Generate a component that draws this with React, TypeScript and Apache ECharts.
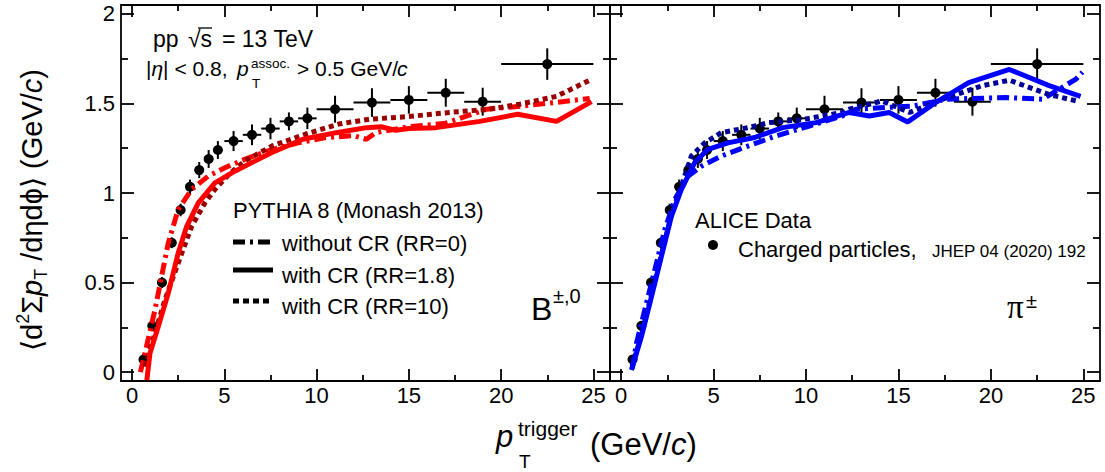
import React, { useEffect, useRef } from "react";
import * as echarts from "echarts";

// ALICE data (charged particles)
const dataPt = [0.62, 1.1, 1.62, 2.15, 2.63, 3.14, 3.64, 4.15, 4.65, 5.5, 6.5, 7.5, 8.5, 9.5, 11, 13, 15, 17, 19, 22.5];
const dataPtErr = [0.25, 0.25, 0.25, 0.25, 0.25, 0.25, 0.25, 0.25, 0.25, 0.5, 0.5, 0.5, 0.5, 0.5, 1, 1, 1, 1, 1, 2.5];
const dataMean = [0.07, 0.258, 0.5, 0.722, 0.905, 1.035, 1.128, 1.19, 1.24, 1.29, 1.325, 1.36, 1.4, 1.417, 1.468, 1.505, 1.52, 1.56, 1.51, 1.72];
const dataMeanErr = [0.02, 0.025, 0.03, 0.03, 0.035, 0.04, 0.045, 0.05, 0.05, 0.056, 0.058, 0.06, 0.05, 0.06, 0.075, 0.08, 0.077, 0.078, 0.078, 0.088];

// B mesons, PYTHIA 8
const bSolidPt = [0.8, 0.97, 1.42, 1.96, 2.5, 2.96, 3.59, 4.49, 5.57, 6.65, 7.55, 9.25, 11.06, 12.7, 13.5, 14.3, 15, 16.47, 18.85, 20.9, 23.0, 24.9];
const bSolidMean = [-0.045, 0.105, 0.254, 0.44, 0.665, 0.814, 0.945, 1.057, 1.122, 1.178, 1.225, 1.3, 1.337, 1.365, 1.37, 1.35, 1.36, 1.365, 1.4, 1.44, 1.4, 1.51];
const bNoCrPt = [0.45, 0.61, 1.24, 1.6, 1.96, 2.5, 3.23, 4.12, 5.03, 6.1, 7.5, 9.0, 10.5, 12.0, 12.7, 13.2, 15.0, 17.0, 19.2, 20.6, 22.9, 24.8];
const bNoCrMean = [0.0, 0.067, 0.347, 0.534, 0.72, 0.908, 1.02, 1.094, 1.141, 1.188, 1.24, 1.28, 1.31, 1.32, 1.3, 1.337, 1.37, 1.39, 1.468, 1.48, 1.505, 1.528];
const bRR10Pt = [0.7, 1.24, 1.78, 2.5, 3.23, 3.95, 4.49, 5.3, 6.2, 7.64, 9.44, 11.2, 12.86, 15.0, 17.2, 19.35, 21.0, 23.0, 24.9];
const bRR10Mean = [0.03, 0.217, 0.403, 0.609, 0.814, 0.945, 1.02, 1.11, 1.185, 1.265, 1.33, 1.385, 1.412, 1.427, 1.45, 1.468, 1.496, 1.54, 1.635];

// pions, PYTHIA 8
const piSolidPt = [0.56, 1.1, 1.64, 2.18, 2.72, 3.26, 3.98, 4.7, 5.78, 7.22, 8.74, 10.54, 12.34, 13.42, 14.5, 15.5, 17.0, 18.8, 21.0, 23.15, 24.85];
const piSolidMean = [0.011, 0.198, 0.42, 0.646, 0.87, 1.02, 1.17, 1.244, 1.28, 1.31, 1.365, 1.393, 1.45, 1.43, 1.45, 1.397, 1.505, 1.617, 1.69, 1.6, 1.54];
const piNoCrPt = [0.6, 0.83, 1.28, 1.82, 2.36, 2.9, 3.62, 4.34, 5.42, 6.86, 8.36, 10.18, 11.96, 12.7, 15.8, 17.6, 20.8, 22.8, 24.6, 24.95];
const piNoCrMean = [0.02, 0.16, 0.347, 0.57, 0.795, 0.963, 1.094, 1.15, 1.206, 1.262, 1.318, 1.374, 1.43, 1.468, 1.486, 1.524, 1.533, 1.524, 1.636, 1.675];
const piRR10Pt = [0.6, 1.1, 1.64, 2.18, 2.72, 3.26, 3.8, 4.52, 5.42, 6.86, 8.0, 9.8, 11.96, 12.34, 14.1, 15.6, 17.4, 19.55, 21.0, 23.15, 24.8];
const piRR10Mean = [0.03, 0.21, 0.43, 0.655, 0.88, 1.04, 1.206, 1.28, 1.337, 1.365, 1.393, 1.41, 1.45, 1.468, 1.514, 1.45, 1.524, 1.6, 1.63, 1.55, 1.51];

const xMajorTicks = [0, 5, 10, 15, 20, 25];
const xMinorTicks = [2.5, 7.5, 12.5, 17.5, 22.5];
const yMajorTicks = [0, 0.5, 1, 1.5, 2];
const yMinorTicks = [0.25, 0.75, 1.25, 1.75];

const FONT = "'Liberation Sans', Arial, Helvetica, sans-serif";
const SERIF = "'Liberation Serif', 'Times New Roman', serif";
const DASHDOT = [12, 5, 3, 5];
const DOTTED = [5, 4];

const axLine = { show: true, onZero: false, lineStyle: { color: "#000", width: 1.8 } };
const noLine = { show: false, onZero: false };
const tickStyle = { color: "#000", width: 1.8 };

function xAxes(g: number) {
  const base = { type: "value", gridIndex: g, min: -0.6, max: 25.9, splitLine: { show: false } };
  return [
    {
      ...base, position: "bottom", axisLine: axLine,
      axisTick: { show: true, inside: true, length: 12, customValues: xMajorTicks, lineStyle: tickStyle },
      axisLabel: { show: true, customValues: xMajorTicks, color: "#000", fontSize: 22, fontFamily: FONT, margin: 3 },
    },
    {
      ...base, position: "bottom", axisLine: noLine,
      axisTick: { show: true, inside: true, length: 6, customValues: xMinorTicks, lineStyle: tickStyle },
      axisLabel: { show: false },
    },
    {
      ...base, position: "top", axisLine: axLine,
      axisTick: { show: true, inside: true, length: 12, customValues: xMajorTicks, lineStyle: tickStyle },
      axisLabel: { show: false },
    },
    {
      ...base, position: "top", axisLine: noLine,
      axisTick: { show: true, inside: true, length: 6, customValues: xMinorTicks, lineStyle: tickStyle },
      axisLabel: { show: false },
    },
  ];
}

function yAxes(g: number) {
  const base = { type: "value", gridIndex: g, min: -0.05, max: 2.05, splitLine: { show: false } };
  return [
    {
      ...base, position: "left", axisLine: axLine,
      axisTick: { show: true, inside: true, length: 13, customValues: yMajorTicks, lineStyle: tickStyle },
      axisLabel: { show: g === 0, customValues: yMajorTicks, color: "#000", fontSize: 22, fontFamily: FONT, margin: 6 },
    },
    {
      ...base, position: "left", axisLine: noLine,
      axisTick: { show: true, inside: true, length: 7, customValues: yMinorTicks, lineStyle: tickStyle },
      axisLabel: { show: false },
    },
    {
      ...base, position: "right", axisLine: axLine,
      axisTick: { show: true, inside: true, length: 13, customValues: yMajorTicks, lineStyle: tickStyle },
      axisLabel: { show: false },
    },
    {
      ...base, position: "right", axisLine: noLine,
      axisTick: { show: true, inside: true, length: 7, customValues: yMinorTicks, lineStyle: tickStyle },
      axisLabel: { show: false },
    },
  ];
}

function dataSeries(g: number) {
  return {
    type: "custom",
    xAxisIndex: 4 * g,
    yAxisIndex: 4 * g,
    dimensions: ["x", "y", "xe", "ye"],
    encode: { x: 0, y: 1 },
    data: dataPt.map((x, i) => [x, dataMean[i], dataPtErr[i], dataMeanErr[i]]),
    z: 2,
    silent: true,
    renderItem: (_params: any, api: any) => {
      const x = api.value(0), y = api.value(1), xe = api.value(2), ye = api.value(3);
      const c = api.coord([x, y]);
      const l = api.coord([x - xe, y]);
      const r = api.coord([x + xe, y]);
      const t = api.coord([x, y + ye]);
      const b = api.coord([x, y - ye]);
      const st = { stroke: "#000", lineWidth: 2 };
      return {
        type: "group",
        children: [
          { type: "line", shape: { x1: l[0], y1: l[1], x2: r[0], y2: r[1] }, style: st },
          { type: "line", shape: { x1: t[0], y1: t[1], x2: b[0], y2: b[1] }, style: st },
          { type: "circle", shape: { cx: c[0], cy: c[1], r: 5 }, style: { fill: "#000" } },
        ],
      };
    },
  };
}

function curve(g: number, xs: number[], ys: number[], color: string, dash: any) {
  return {
    type: "line",
    xAxisIndex: 4 * g,
    yAxisIndex: 4 * g,
    data: xs.map((x, i) => [x, ys[i]]),
    symbol: "none",
    showSymbol: false,
    silent: true,
    clip: true,
    z: 3,
    lineStyle: { color, width: 5, type: dash },
  };
}

function txt(text: string, x: number, y: number, fontSize: number, extra: any = {}) {
  return {
    type: "text",
    x,
    y,
    silent: true,
    style: {
      text,
      fontSize,
      fontFamily: FONT,
      fill: "#000",
      align: "left",
      verticalAlign: "middle",
      textAlign: "left",
      textVerticalAlign: "middle",
      ...extra,
    },
  };
}

export default function App() {
  const ref = useRef<HTMLDivElement>(null);
  useEffect(() => {
    if (!ref.current) return;
    const chart = echarts.init(ref.current, null, { renderer: "svg" });
    const option: any = {
      animation: false,
      backgroundColor: "#fff",
      grid: [
        { left: 121, top: 5, width: 489, height: 376 },
        { left: 610, top: 5, width: 490, height: 376 },
      ],
      xAxis: [...xAxes(0), ...xAxes(1)],
      yAxis: [...yAxes(0), ...yAxes(1)],
      series: [
        dataSeries(0),
        curve(0, bNoCrPt, bNoCrMean, "#ff0000", DASHDOT),
        curve(0, bRR10Pt, bRR10Mean, "#990000", DOTTED),
        curve(0, bSolidPt, bSolidMean, "#ff0000", "solid"),
        dataSeries(1),
        curve(1, piNoCrPt, piNoCrMean, "#0000ff", DASHDOT),
        curve(1, piRR10Pt, piRR10Mean, "#000099", DOTTED),
        curve(1, piSolidPt, piSolidMean, "#0000ff", "solid"),
      ],
      graphic: [
        // y-axis title
        {
          type: "text",
          x: 32,
          y: 210,
          rotation: Math.PI / 2,
          silent: true,
          style: {
            text: "{b|⟨d}{sup|2}{b|Σ}{i|p}{sub|T}{b| /dηdϕ⟩ (GeV/}{i|c}{b|)}",
            align: "center",
            verticalAlign: "middle",
            textAlign: "center",
            textVerticalAlign: "middle",
            fill: "#000",
            rich: {
              b: { fontSize: 29, fontFamily: FONT, fill: "#000", lineHeight: 36 },
              i: { fontSize: 29, fontFamily: FONT, fontStyle: "italic", fill: "#000", lineHeight: 36 },
              sup: { fontSize: 18, fontFamily: FONT, fill: "#000", lineHeight: 20, verticalAlign: "top" },
              sub: { fontSize: 18, fontFamily: FONT, fill: "#000", lineHeight: 20, verticalAlign: "bottom" },
            },
          },
        },
        // x-axis title
        txt("p", 496, 436, 31, { fontStyle: "italic" }),
        txt("trigger", 518, 428, 21),
        txt("T", 519, 461, 19),
        {
          type: "text",
          x: 590,
          y: 444,
          silent: true,
          style: {
            text: "{b|(GeV/}{i|c}{b|)}",
            align: "left",
            verticalAlign: "middle",
            textAlign: "left",
            textVerticalAlign: "middle",
            rich: {
              b: { fontSize: 31, fontFamily: FONT, fill: "#000" },
              i: { fontSize: 31, fontFamily: FONT, fontStyle: "italic", fill: "#000" },
            },
          },
        },
        // left panel annotations
        txt("pp", 153, 38.5, 23),
        txt("√s", 188, 38.5, 23),
        { type: "line", silent: true, shape: { x1: 198, y1: 28, x2: 212, y2: 28 }, style: { stroke: "#000", lineWidth: 1.3 } },
        txt("= 13 TeV", 222, 38.5, 23),
        {
          type: "text",
          x: 146,
          y: 68,
          silent: true,
          style: {
            text: "{b||}{i|η}{b|| < 0.8,}",
            align: "left",
            verticalAlign: "middle",
            textAlign: "left",
            textVerticalAlign: "middle",
            rich: {
              b: { fontSize: 21, fontFamily: FONT, fill: "#000" },
              i: { fontSize: 21, fontFamily: FONT, fontStyle: "italic", fill: "#000" },
            },
          },
        },
        txt("p", 237, 68, 21, { fontStyle: "italic" }),
        txt("assoc.", 251, 63, 13.5),
        txt("T", 252, 83.5, 13.5),
        txt("> 0.5 GeV/", 297, 68, 21),
        txt("c", 397, 68, 21, { fontStyle: "italic" }),
        // legend (PYTHIA)
        txt("PYTHIA 8 (Monash 2013)", 233, 210.5, 22),
        { type: "line", silent: true, shape: { x1: 233, y1: 242, x2: 273, y2: 242 }, style: { stroke: "#000", lineWidth: 5, lineDash: DASHDOT } },
        txt("without CR (RR=0)", 282, 243, 22),
        { type: "line", silent: true, shape: { x1: 233, y1: 270, x2: 273, y2: 270 }, style: { stroke: "#000", lineWidth: 5 } },
        txt("with CR (RR=1.8)", 282, 275, 22),
        { type: "line", silent: true, shape: { x1: 233, y1: 301, x2: 273, y2: 301 }, style: { stroke: "#000", lineWidth: 5, lineDash: [6, 4] } },
        txt("with CR (RR=10)", 282, 306, 22),
        // particle labels
        txt("B", 531, 309, 32),
        txt("±,0", 553, 296, 20),
        txt("π", 1007, 307, 33, { fontFamily: SERIF }),
        txt("±", 1026, 301, 20),
        // legend (ALICE)
        txt("ALICE Data", 695, 220.5, 22),
        { type: "circle", silent: true, shape: { cx: 713, cy: 245, r: 5 }, style: { fill: "#000" } },
        txt("Charged particles,", 738, 249.5, 22),
        txt("JHEP 04 (2020) 192", 932, 251, 17),
      ],
    };
    chart.setOption(option);
    return () => chart.dispose();
  }, []);
  return <div ref={ref} style={{ position: "fixed", left: 0, top: 0, width: 1105, height: 472 }} />;
}
